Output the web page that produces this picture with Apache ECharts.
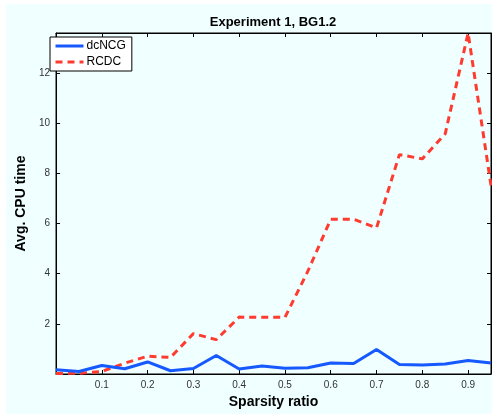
<!DOCTYPE html>
<html>
<head>
<meta charset="utf-8">
<script src="https://cdn.jsdelivr.net/npm/echarts@6/dist/echarts.min.js"></script>
<style>
html,body{margin:0;padding:0;background:#ffffff;}
#c{position:absolute;left:6px;top:4px;width:486px;height:410px;background:#f0ffff;}
</style>
</head>
<body>
<div id="c"></div>
<script>
var sparsity = [0,0.05,0.1,0.15,0.2,0.25,0.3,0.35,0.4,0.45,0.5,0.55,0.6,0.65,0.7,0.75,0.8,0.85,0.9,0.95];
var dcNCG = [0.17,0.1,0.34,0.21,0.48,0.13,0.22,0.74,0.2,0.32,0.23,0.25,0.44,0.42,0.98,0.38,0.36,0.4,0.54,0.44];
var RCDC = [0.02,0.03,0.1,0.43,0.71,0.66,1.61,1.37,2.27,2.26,2.26,4.1,6.17,6.17,5.83,8.75,8.58,9.58,13.6,7.52];
var yMax = 13.6;

function pairs(xs, ys){ return xs.map(function(x,i){ return [x, ys[i]]; }); }

var chart = echarts.init(document.getElementById('c'), null, {renderer:'canvas'});
var font = 'Liberation Sans, Arial, Helvetica, sans-serif';
var axisLine = {show:true, onZero:false, lineStyle:{color:'#000', width:1}};
var tick = {show:true, inside:true, length:4, lineStyle:{color:'#000'}};
chart.setOption({
  backgroundColor:'#f0ffff',
  animation:false,
  title:{text:'Experiment 1, BG1.2', left:262, top:7, textAlign:'center',
    textStyle:{fontFamily:font, fontSize:13, fontWeight:'bold', color:'#000'}},
  grid:{left:39, top:29, width:446, height:352, containLabel:false,
    show:true, borderColor:'#000', borderWidth:1, backgroundColor:'transparent'},
  legend:{left:44, top:33, orient:'vertical', backgroundColor:'#fff', borderColor:'#000', borderWidth:1,
    borderRadius:0, padding:[3,6,3,4], itemGap:4, itemWidth:28, itemHeight:10,
    textStyle:{fontFamily:font, fontSize:12, color:'#000', padding:[0,0,0,-2]},
    data:[{name:'dcNCG', itemStyle:{opacity:0}, lineStyle:{width:3}},
          {name:'RCDC', itemStyle:{opacity:0}, lineStyle:{width:3}}]},
  xAxis:[{type:'value', min:0, max:0.95, interval:0.1, position:'bottom',
    axisLine:axisLine, axisTick:tick, splitLine:{show:false},
    axisLabel:{showMinLabel:false, showMaxLabel:false, fontFamily:font, fontSize:10, color:'#333', margin:6,
      formatter:function(v){ return (Math.round(v*10)/10).toString(); }},
    name:'Sparsity ratio', nameLocation:'middle', nameGap:21,
    nameTextStyle:{fontFamily:font, fontSize:14, fontWeight:'bold', color:'#000'}},
   {type:'value', min:0, max:0.95, interval:0.1, position:'top',
    axisLine:axisLine, axisTick:tick, splitLine:{show:false}, axisLabel:{show:false}}],
  yAxis:[{type:'value', min:0, max:yMax, interval:2, position:'left',
    axisLine:axisLine, axisTick:tick, splitLine:{show:false},
    axisLabel:{showMinLabel:false, showMaxLabel:false, fontFamily:font, fontSize:10, color:'#333', margin:6},
    name:'Avg. CPU time', nameLocation:'middle', nameGap:24,
    nameTextStyle:{fontFamily:font, fontSize:14, fontWeight:'bold', color:'#000'}},
   {type:'value', min:0, max:yMax, interval:2, position:'right',
    axisLine:axisLine, axisTick:tick, splitLine:{show:false}, axisLabel:{show:false}}],
  series:[
    {name:'dcNCG', type:'line', data:pairs(sparsity, dcNCG), showSymbol:false, symbol:'none',
      lineStyle:{color:'#1559ff', width:3}, itemStyle:{color:'#1559ff'}, z:3},
    {name:'RCDC', type:'line', data:pairs(sparsity, RCDC), showSymbol:false, symbol:'none',
      lineStyle:{color:'#ff3b30', width:3, type:[7,5]}, itemStyle:{color:'#ff3b30'}, z:2}
  ]
});
</script>
</body>
</html>
